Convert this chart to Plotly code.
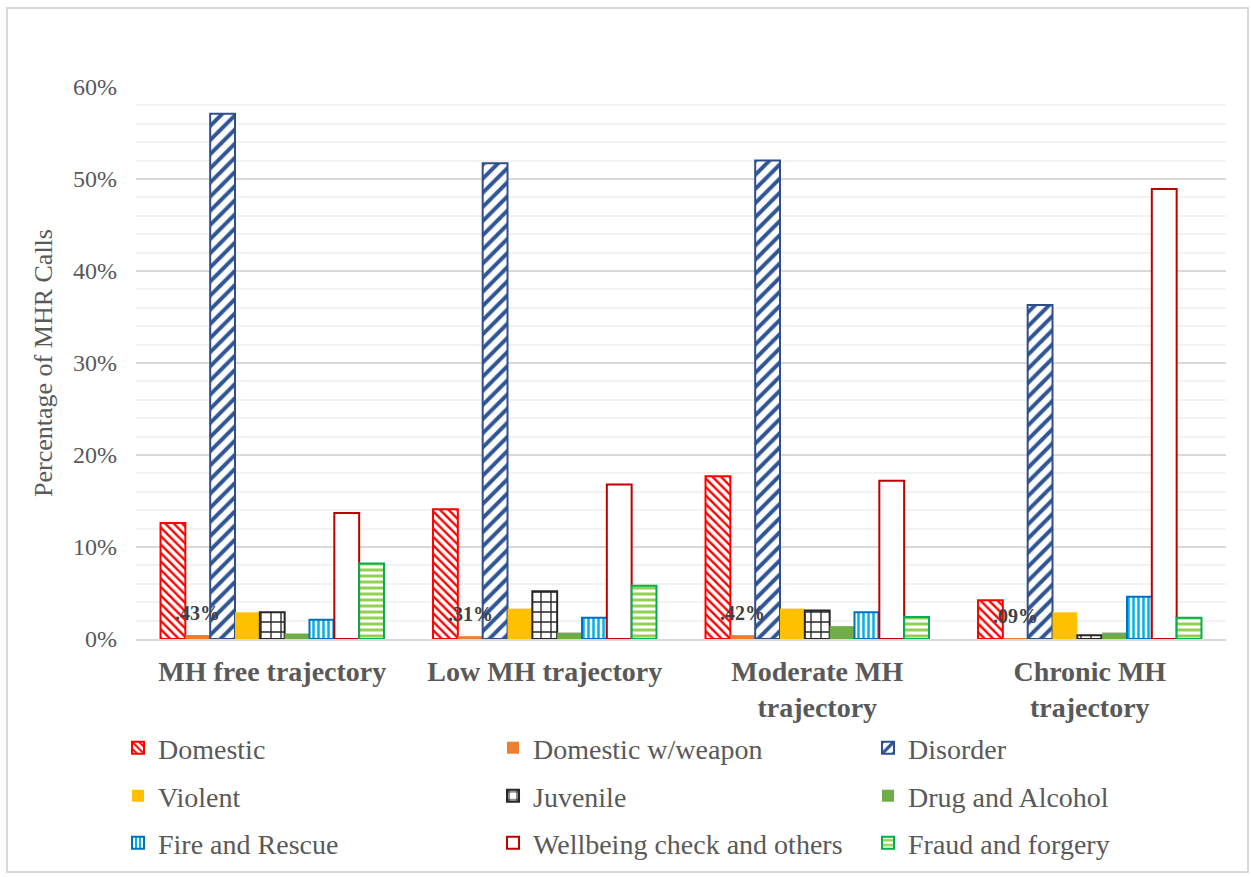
import plotly.graph_objects as go

categories = ["MH free trajectory", "Low MH trajectory", "Moderate MH<br>trajectory", "Chronic MH<br>trajectory"]

domestic = [12.6, 14.1, 17.7, 4.2]
domestic_weapon = [0.43, 0.31, 0.42, 0.09]
disorder = [57.1, 51.7, 52.0, 36.3]
violent = [2.9, 3.3, 3.3, 2.9]
juvenile = [2.9, 5.2, 3.1, 0.4]
drug_alcohol = [0.6, 0.7, 1.4, 0.7]
fire_rescue = [2.1, 2.3, 2.9, 4.6]
wellbeing = [13.7, 16.8, 17.2, 48.9]
fraud = [8.2, 5.8, 2.4, 2.3]

series_names = ["Domestic", "Domestic w/weapon", "Disorder", "Violent", "Juvenile",
                "Drug and Alcohol", "Fire and Rescue", "Wellbeing check and others", "Fraud and forgery"]
series_values = [domestic, domestic_weapon, disorder, violent, juvenile,
                 drug_alcohol, fire_rescue, wellbeing, fraud]

FONT = "Liberation Serif, Times New Roman, serif"
GRAY = "#595959"

styles = [
    dict(color="white", line=dict(color="#FF0000", width=2),
         pattern=dict(shape="\\", fgcolor="#FF0000", bgcolor="white", size=6, solidity=0.4, fgopacity=1)),
    dict(color="#ED7D31", line=dict(color="#ED7D31", width=0)),
    dict(color="white", line=dict(color="#2F4F8A", width=2),
         pattern=dict(shape="/", fgcolor="#2F5597", bgcolor="white", size=10, solidity=0.4, fgopacity=1)),
    dict(color="#FFC000", line=dict(color="#FFC000", width=0)),
    dict(color="white", line=dict(color="#262626", width=2),
         pattern=dict(shape="+", fgcolor="#262626", bgcolor="white", size=10, solidity=0.25, fgopacity=1)),
    dict(color="#70AD47", line=dict(color="#70AD47", width=0)),
    dict(color="white", line=dict(color="#0070C0", width=2),
         pattern=dict(shape="|", fgcolor="#00B0F0", bgcolor="white", size=5, solidity=0.5, fgopacity=1)),
    dict(color="white", line=dict(color="#C00000", width=2)),
    dict(color="white", line=dict(color="#00B050", width=2),
         pattern=dict(shape="-", fgcolor="#92D050", bgcolor="white", size=6, solidity=0.5, fgopacity=1)),
]

legend_ids = ["legend", "legend", "legend", "legend2", "legend2", "legend2", "legend3", "legend3", "legend3"]

fig = go.Figure()
for name, vals, st, lg in zip(series_names, series_values, styles, legend_ids):
    fig.add_trace(go.Bar(name=name, x=categories, y=vals, marker=st, legend=lg))

# data labels for Domestic w/weapon
bargap = 0.18
plot_w = 1251 - 136 - 25
bw = plot_w / len(categories) * (1 - bargap) / len(series_names)
for cat, v in zip(categories, domestic_weapon):
    fig.add_annotation(x=cat, y=v, xref="x", yref="y", text=f"{v:.2f}%".lstrip("0"),
                       showarrow=False, xshift=-3 * bw, yshift=22,
                       font=dict(family=FONT, size=20, color="#404040", weight="bold"))

leg_common = dict(orientation="h", xanchor="left", yanchor="middle", x=-0.0165,
                  entrywidth=330, entrywidthmode="pixels",
                  font=dict(family=FONT, size=28, color=GRAY), bgcolor="rgba(0,0,0,0)")

fig.update_layout(
    width=1251, height=877,
    margin=dict(l=136, r=25, t=87, b=238, autoexpand=False),
    paper_bgcolor="white", plot_bgcolor="white",
    barmode="group", bargap=bargap, bargroupgap=0,
    font=dict(family=FONT, color=GRAY),
    legend=dict(**leg_common, y=-0.1975),
    legend2=dict(**leg_common, y=-0.2845),
    legend3=dict(**leg_common, y=-0.3695),
    xaxis=dict(showline=True, linecolor="#D9D9D9", linewidth=2,
               tickfont=dict(family=FONT, size=28, color=GRAY, weight="bold"),
               ticklabelstandoff=6),
    yaxis=dict(range=[0, 60], dtick=10, ticksuffix="%",
               showgrid=True, gridcolor="#D9D9D9", gridwidth=2,
               minor=dict(dtick=2, showgrid=True, gridcolor="#F2F2F2", gridwidth=2),
               zeroline=False, showline=False,
               tickfont=dict(family=FONT, size=24, color=GRAY),
               ticklabelstandoff=18,
               title=dict(text="Percentage of MHR Calls", standoff=12,
                          font=dict(family=FONT, size=26, color=GRAY))),
)

fig.add_shape(type="rect", xref="paper", yref="paper",
              x0=(7 - 136) / plot_w, x1=(1248 - 136) / plot_w,
              y0=(639 - 872) / 552, y1=(639 - 8) / 552,
              line=dict(color="#D9D9D9", width=2), fillcolor="rgba(0,0,0,0)", layer="below")

fig.write_html("out.html")
